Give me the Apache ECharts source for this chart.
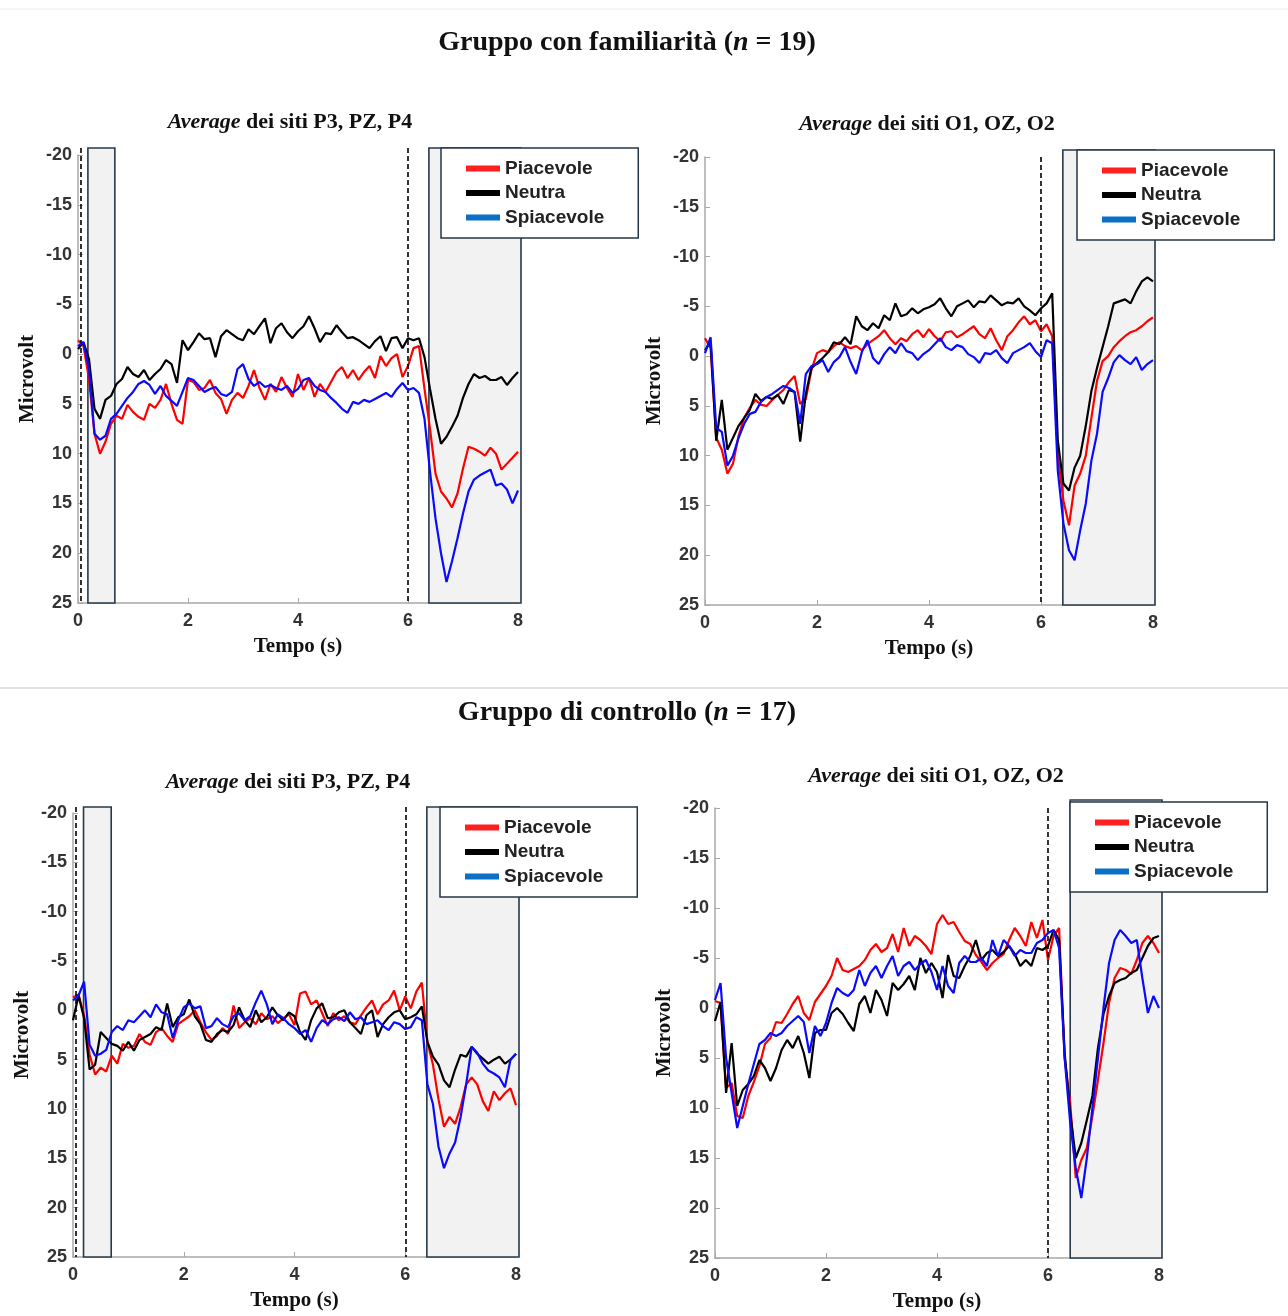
<!DOCTYPE html>
<html>
<head>
<meta charset="utf-8">
<script src="https://cdn.jsdelivr.net/npm/echarts@6/dist/echarts.min.js"></script>
<style>
  html, body { margin: 0; padding: 0; background: #fff; }
  #chart { width: 1288px; height: 1316px; }
</style>
</head>
<body>
<div id="chart"></div>
<script>
// sample times (s)
const TIME = [0,0.1,0.2,0.3,0.4,0.5,0.6,0.7,0.8,0.9,1,1.1,1.2,1.3,1.4,1.5,1.6,1.7,1.8,1.9,
  2,2.1,2.2,2.3,2.4,2.5,2.6,2.7,2.8,2.9,3,3.1,3.2,3.3,3.4,3.5,3.6,3.7,3.8,3.9,
  4,4.1,4.2,4.3,4.4,4.5,4.6,4.7,4.8,4.9,5,5.1,5.2,5.3,5.4,5.5,5.6,5.7,5.8,5.9,
  6,6.1,6.2,6.3,6.4,6.5,6.6,6.7,6.8,6.9,7,7.1,7.2,7.3,7.4,7.5,7.6,7.7,7.8,7.9,8];

const CONDITIONS = ["Piacevole", "Neutra", "Spiacevole"];

// Gruppo con familiarità - P3, PZ, P4
const FAM_P_RED = [-1.4,-0.8,2.5,8.0,10.0,8.8,7.0,6.2,6.5,5.1,5.8,6.3,6.6,5.0,5.4,4.6,3.0,5.0,6.6,7.0,
  2.6,2.8,3.6,3.4,2.6,3.9,4.5,6.0,4.6,3.9,4.4,3.2,1.6,3.4,4.6,3.0,3.8,2.3,3.4,4.3,
  2.0,3.6,2.4,4.3,3.0,3.8,2.8,1.8,1.3,2.4,1.6,2.6,1.8,1.2,2.4,0.2,1.2,0.4,0.0,2.3,
  1.2,-0.6,-0.8,3.5,7.5,12.0,13.8,14.5,15.4,14.0,11.5,9.3,9.5,9.8,10.2,9.4,10.0,11.6,11.0,10.4,9.8];
const FAM_P_BLACK = [-0.5,-1.2,0.5,5.5,6.5,4.6,4.2,3.0,2.5,1.3,2.0,2.3,1.6,2.6,2.0,1.5,0.6,1.0,2.9,-1.4,
  -0.4,-1.2,-2.1,-1.5,-1.6,0.3,-1.8,-2.4,-2.0,-1.6,-1.4,-2.5,-2.0,-2.8,-3.6,-1.1,-2.6,-3.1,-2.2,-1.6,
  -2.3,-2.8,-3.8,-2.6,-1.2,-2.1,-2.0,-2.9,-2.2,-1.6,-1.7,-1.4,-1.0,-0.6,-1.3,-1.8,-0.3,-1.6,-1.7,-0.6,
  -1.6,-1.4,-1.6,0.3,3.5,6.5,9.0,8.3,7.3,6.2,4.4,3.0,2.0,2.4,2.2,2.6,2.6,2.3,3.1,2.4,1.8];
const FAM_P_BLUE = [-0.8,-1.2,1.5,8.0,8.6,8.2,6.5,6.0,5.2,4.4,3.8,3.0,2.7,3.1,4.0,3.2,4.2,4.7,5.2,3.8,
  2.4,2.6,3.2,3.8,3.5,3.3,4.0,4.2,3.8,1.5,1.0,2.5,3.2,2.8,3.3,3.1,3.4,3.6,3.2,3.9,
  3.5,2.6,2.4,3.2,3.6,3.8,4.4,4.9,5.5,5.9,4.8,5.0,4.6,4.8,4.5,4.2,3.9,4.3,3.5,2.9,
  3.6,3.4,3.9,6.5,11.8,16.5,20.0,22.9,20.8,18.5,16.0,13.8,12.6,12.2,11.9,11.6,13.2,13.0,13.6,15.0,13.7];

// Gruppo con familiarità - O1, OZ, O2
const FAM_O_RED = [-1.8,-0.8,8.2,9.4,11.8,10.8,8.0,6.2,5.2,4.4,4.9,5.0,4.4,3.9,3.4,2.6,2.0,4.8,4.3,1.4,
  -0.3,-0.6,-0.4,-1.0,-1.4,-1.0,-0.8,-1.0,-0.6,-1.2,-1.6,-2.0,-2.6,-1.8,-1.2,-1.8,-1.5,-2.2,-2.6,-1.9,
  -2.7,-2.0,-1.5,-2.4,-2.5,-1.9,-2.2,-2.6,-3.0,-2.2,-1.8,-2.8,-1.6,-0.6,-2.0,-2.6,-3.4,-4.0,-3.2,-3.6,
  -2.5,-3.2,-2.0,10.0,14.5,17.0,13.0,11.8,10.0,6.2,2.5,0.5,0.0,-0.9,-1.5,-2.0,-2.4,-2.6,-3.0,-3.5,-3.9];
const FAM_O_BLACK = [-0.6,-1.4,8.5,4.4,9.4,8.2,7.0,6.2,5.4,3.8,4.5,4.1,4.3,3.9,4.8,3.4,3.6,8.6,3.8,1.2,
  0.7,0.2,-0.4,-1.4,-1.2,-1.9,-1.2,-4.0,-3.0,-2.6,-3.3,-2.8,-4.1,-3.6,-5.3,-4.0,-4.2,-4.8,-4.3,-4.7,
  -4.9,-5.2,-5.8,-4.8,-4.0,-5.0,-5.3,-5.6,-4.9,-5.5,-5.4,-6.1,-5.6,-5.1,-5.4,-5.3,-5.8,-5.0,-4.6,-4.1,
  -4.8,-5.3,-6.3,8.5,12.8,13.5,11.2,10.0,7.0,3.5,1.2,-0.9,-3.0,-5.3,-5.5,-5.7,-5.3,-6.5,-7.5,-7.9,-7.5];
const FAM_O_BLUE = [-0.3,-1.9,7.2,7.6,11.0,10.0,8.2,6.8,5.8,5.6,4.6,4.1,3.8,3.4,3.0,3.2,3.6,6.8,1.8,1.0,
  0.8,0.4,1.6,0.6,0.1,-0.9,0.6,1.8,-0.4,-1.6,0.2,0.8,-0.2,-0.9,-0.3,-1.3,-0.5,-0.3,0.4,-0.2,
  -0.6,-1.2,-1.8,-0.9,-0.6,-1.1,-0.9,-0.2,0.1,0.7,-0.3,-0.2,-0.6,0.2,0.7,-0.3,-0.6,-0.9,-1.3,-0.5,
  0.1,-1.6,-1.3,11.5,16.8,19.5,20.5,17.5,14.8,10.5,7.8,3.6,2.2,0.6,-0.1,0.4,0.8,0.1,1.4,0.8,0.4];

// Gruppo di controllo - P3, PZ, P4
const CTL_P_RED = [-1.3,-1.6,0.5,4.5,6.5,5.8,6.2,4.6,5.4,3.4,3.8,3.6,2.4,3.2,3.5,2.2,1.8,2.6,3.2,1.4,
  1.0,0.6,0.0,1.2,2.2,3.0,2.6,1.8,2.4,-0.5,1.8,1.2,0.8,1.4,0.3,0.9,0.6,1.3,0.8,0.4,
  1.5,-1.7,-1.9,-0.6,-1.0,0.3,1.6,0.3,1.0,0.6,1.2,1.4,0.5,-0.3,-1.0,0.4,-0.6,-1.0,-2.0,0.0,
  -1.4,-0.2,-1.9,-2.8,3.2,5.5,9.0,11.8,10.8,11.5,9.8,7.5,6.8,7.5,9.2,10.2,8.2,9.1,8.4,7.9,9.6];
const CTL_P_BLACK = [1.0,-1.5,0.8,6.0,5.5,2.2,2.8,3.4,3.6,4.1,3.2,4.1,3.0,2.7,2.4,1.7,2.0,-0.7,1.7,0.7,
  0.4,-1.1,0.6,1.4,3.0,3.2,2.4,2.0,2.2,1.5,-0.3,1.0,1.7,0.0,1.2,0.7,-0.3,0.5,1.0,0.2,
  0.6,2.2,3.0,1.0,-0.2,-0.7,0.8,0.7,0.2,0.0,1.2,1.8,2.4,0.5,0.0,2.7,1.4,0.7,0.2,0.0,
  0.9,0.7,0.4,-0.4,3.2,4.7,5.5,7.1,7.8,6.0,4.5,4.7,3.7,4.4,4.9,5.4,5.0,4.7,5.4,5.0,4.4];
const CTL_P_BLUE = [-1.0,-1.5,-2.9,3.5,4.6,4.4,4.0,2.2,1.6,2.0,1.0,1.2,0.6,0.0,0.7,-0.6,0.2,0.4,2.8,1.0,
  -0.3,-0.7,-0.2,-0.4,1.8,1.6,0.8,1.4,1.7,0.6,0.3,1.0,0.6,-0.8,-2.0,-0.6,1.4,0.4,0.8,1.4,
  1.8,2.4,2.0,3.2,1.8,1.0,1.4,0.9,0.7,1.1,0.2,0.9,0.7,1.4,1.2,1.0,1.6,2.0,1.2,1.4,
  1.9,1.7,0.7,1.0,7.5,9.5,13.8,16.0,14.5,13.4,10.8,7.5,3.7,4.3,5.4,6.1,6.4,6.8,7.8,5.0,4.4];

// Gruppo di controllo - O1, OZ, O2
const CTL_O_RED = [-0.7,-0.5,8.0,7.5,10.8,11.0,8.8,7.4,5.8,3.6,3.0,1.4,1.5,0.6,-0.4,-1.2,0.5,1.2,-0.6,-1.4,
  -2.2,-3.2,-5.0,-3.8,-3.6,-3.9,-4.2,-4.8,-5.8,-6.4,-5.6,-6.0,-7.4,-5.6,-8.0,-6.2,-7.2,-6.8,-6.2,-5.4,
  -8.4,-9.3,-8.4,-8.6,-7.6,-6.7,-6.4,-5.3,-4.6,-3.8,-4.5,-5.0,-5.4,-6.8,-8.0,-7.2,-6.2,-8.6,-7.0,-8.8,
  -4.8,-7.2,-8.0,5.0,9.5,17.0,15.2,14.0,10.8,7.2,3.5,-0.5,-3.0,-4.0,-3.8,-3.4,-4.8,-6.5,-7.2,-6.5,-5.5];
const CTL_O_BLACK = [1.3,-0.6,8.5,3.5,9.8,8.2,7.6,6.8,5.2,6.0,7.3,6.0,4.2,3.2,4.0,2.8,4.5,7.0,2.5,2.2,
  2.2,0.5,0.0,0.6,1.5,2.3,-0.4,-1.2,0.5,-1.8,-0.8,0.8,-2.5,-1.8,-2.4,-3.2,-1.8,-5.0,-3.5,-4.5,
  -3.6,-1.0,-5.3,-3.2,-3.0,-4.2,-5.2,-6.8,-4.8,-5.5,-5.8,-5.2,-5.6,-6.2,-5.4,-4.2,-4.8,-4.2,-6.0,-5.8,
  -6.2,-7.8,-6.8,4.5,10.5,15.0,13.5,11.2,8.8,4.0,0.6,-1.2,-2.5,-2.8,-3.0,-3.5,-3.8,-5.0,-6.2,-7.0,-7.2];
const CTL_O_BLUE = [-0.8,-2.5,5.0,8.5,12.0,9.8,7.6,5.6,3.6,3.2,2.5,2.8,2.5,1.8,1.3,0.8,1.4,4.5,1.8,2.8,
  1.5,-0.5,-2.0,-1.5,-1.2,-1.8,-3.8,-2.2,-3.5,-4.2,-3.0,-4.2,-5.2,-3.2,-4.2,-4.6,-3.8,-4.4,-4.8,-3.6,
  -1.8,-4.2,-2.2,-1.5,-4.5,-5.2,-4.6,-4.6,-5.0,-4.2,-6.8,-5.2,-6.8,-6.2,-5.2,-5.8,-5.5,-5.5,-6.5,-6.8,
  -7.5,-7.8,-6.0,5.0,11.5,16.0,19.0,15.0,10.0,5.0,0.0,-4.5,-6.8,-7.8,-7.2,-6.5,-6.8,-3.0,0.5,-1.2,0.0];

const SERIF = "'Liberation Serif', 'DejaVu Serif', serif";
const SANS = "'Liberation Sans', Arial, sans-serif";
const LINE_COLORS = ["#ff0000", "#000000", "#0a0aff"];
const LEGEND_COLORS = ["#ff1f1f", "#000000", "#0a70c6"];
const AXIS_GRAY = "#a8a8a8";

// zoneTopPx / dashTopPx / last zone right edge: the boxes stick out a little past the axes
const panels = [
  { grid: { left: 78, top: 155, width: 440, height: 448 }, values: [FAM_P_RED, FAM_P_BLACK, FAM_P_BLUE],
    sites: "P3, PZ, P4", titleAt: [290, 111], legendAt: [441, 148],
    zones: [[0.18, 0.67], [6.38, 8]], zoneRightPx: 521, zoneTopPx: 148, dashes: [0.05, 6], dashTopPx: 148 },
  { grid: { left: 705, top: 157, width: 448, height: 448 }, values: [FAM_O_RED, FAM_O_BLACK, FAM_O_BLUE],
    sites: "O1, OZ, O2", titleAt: [927, 113], legendAt: [1077, 150],
    zones: [[6.39, 8]], zoneRightPx: 1155, zoneTopPx: 150, dashes: [6], dashTopPx: 157 },
  { grid: { left: 73, top: 813, width: 443, height: 444 }, values: [CTL_P_RED, CTL_P_BLACK, CTL_P_BLUE],
    sites: "P3, PZ, P4", titleAt: [288, 771], legendAt: [440, 807],
    zones: [[0.19, 0.69], [6.39, 8]], zoneRightPx: 519, zoneTopPx: 807, dashes: [0.05, 6], dashTopPx: 807 },
  { grid: { left: 715, top: 808, width: 444, height: 450 }, values: [CTL_O_RED, CTL_O_BLACK, CTL_O_BLUE],
    sites: "O1, OZ, O2", titleAt: [936, 765], legendAt: [1070, 802],
    zones: [[6.4, 8]], zoneRightPx: 1162, zoneTopPx: 800, dashes: [6], dashTopPx: 808 }
];

const chart = echarts.init(document.getElementById("chart"), null, { renderer: "canvas" });

const titles = [
  { text: "{b|Gruppo con familiarità (}{i|n}{b| = 19)}", left: 627, top: 29 },
  { text: "{b|Gruppo di controllo (}{i|n}{b| = 17)}", left: 627, top: 699 }
].map(t => ({
  text: t.text, left: t.left, top: t.top, textAlign: "center", padding: 0,
  textStyle: { rich: {
    b: { fontFamily: SERIF, fontWeight: "bold", fontSize: 28, color: "#111" },
    i: { fontFamily: SERIF, fontWeight: "bold", fontStyle: "italic", fontSize: 28, color: "#111" }
  } }
}));

panels.forEach(p => {
  titles.push({
    text: "{i|Average}{b| dei siti " + p.sites + "}",
    left: p.titleAt[0], top: p.titleAt[1], textAlign: "center", padding: 0,
    textStyle: { rich: {
      i: { fontFamily: SERIF, fontStyle: "italic", fontSize: 22, color: "#111" },
      b: { fontFamily: SERIF, fontWeight: "bold", fontSize: 22, color: "#111" }
    } }
  });
});

const grids = [], xAxes = [], yAxes = [], legends = [], series = [];

panels.forEach((p, k) => {
  grids.push(Object.assign({ containLabel: false }, p.grid));
  xAxes.push({
    gridIndex: k, type: "value", min: 0, max: 8, interval: 2,
    name: "Tempo (s)", nameLocation: "middle", nameGap: 33,
    nameTextStyle: { fontFamily: SERIF, fontWeight: "bold", fontSize: 21, color: "#111" },
    axisLine: { onZero: false, lineStyle: { color: AXIS_GRAY, width: 1.5 } },
    axisTick: { inside: true, length: 5, lineStyle: { color: AXIS_GRAY } },
    axisLabel: { fontFamily: SANS, fontWeight: "bold", fontSize: 18, color: "#333", margin: 9 },
    splitLine: { show: false }
  });
  yAxes.push({
    gridIndex: k, type: "value", inverse: true, min: -20, max: 25, interval: 5,
    name: "Microvolt", nameLocation: "middle", nameGap: 40,
    nameTextStyle: { fontFamily: SERIF, fontWeight: "bold", fontSize: 21, color: "#111" },
    axisLine: { show: true, onZero: false, lineStyle: { color: AXIS_GRAY, width: 1.5 } },
    axisTick: { show: true, inside: true, length: 5, lineStyle: { color: AXIS_GRAY } },
    axisLabel: { fontFamily: SANS, fontWeight: "bold", fontSize: 18, color: "#333", margin: 6 },
    splitLine: { show: false }
  });
  legends.push({
    left: p.legendAt[0], top: p.legendAt[1], orient: "vertical", selectedMode: false,
    backgroundColor: "#fff", borderColor: "#263746", borderWidth: 1.5, borderRadius: 0,
    padding: [11, 34, 11, 25], itemGap: 5.5, itemWidth: 34, itemHeight: 6, icon: "rect",
    textStyle: { fontFamily: SANS, fontWeight: "bold", fontSize: 19, lineHeight: 19, color: "#222" },
    data: CONDITIONS.map((c, j) => ({ name: c, itemStyle: { color: LEGEND_COLORS[j] } }))
  });
  // shaded analysis windows and event markers
  const last = p.zones.length - 1;
  series.push({
    type: "line", name: "zone" + k, xAxisIndex: k, yAxisIndex: k, data: [], z: 1, silent: true, clip: false,
    markArea: {
      silent: true,
      itemStyle: { color: "#f2f2f2", borderColor: "#27394a", borderWidth: 1.6 },
      data: p.zones.map((z, i) => [
        { xAxis: z[0], y: p.zoneTopPx },
        i === last ? { xAxis: z[1], yAxis: 25, x: p.zoneRightPx } : { xAxis: z[1], yAxis: 25 }
      ])
    },
    markLine: {
      silent: true, symbol: ["none", "none"], label: { show: false },
      lineStyle: { color: "#000", width: 1.6, type: [5, 3] },
      data: p.dashes.map(x => [{ xAxis: x, y: p.dashTopPx }, { coord: [x, 25] }])
    }
  });
  CONDITIONS.forEach((c, j) => {
    series.push({
      type: "line", name: c, xAxisIndex: k, yAxisIndex: k, z: 3 + j,
      showSymbol: false, symbol: "none", animation: false,
      lineStyle: { color: LINE_COLORS[j], width: 2.2 },
      itemStyle: { color: LINE_COLORS[j] },
      data: TIME.map((t, i) => [t, p.values[j][i]])
    });
  });
});

chart.setOption({
  backgroundColor: "#fff",
  animation: false,
  title: titles,
  grid: grids,
  xAxis: xAxes,
  yAxis: yAxes,
  legend: legends,
  series: series,
  graphic: [
    { type: "line", shape: { x1: 0, y1: 9, x2: 1288, y2: 9 }, style: { stroke: "#ececec", lineWidth: 1 } },
    { type: "line", shape: { x1: 0, y1: 688, x2: 1288, y2: 688 }, style: { stroke: "#d9d9d9", lineWidth: 1.5 } }
  ]
});
</script>
</body>
</html>
